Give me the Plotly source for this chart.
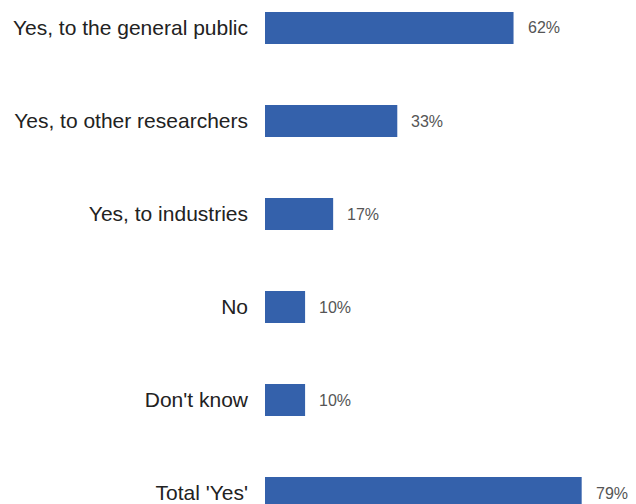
import plotly.graph_objects as go

categories = ["Yes, to the general public", "Yes, to other researchers", "Yes, to industries",
              "No", "Don't know", "Total 'Yes'"]
values = [62, 33, 17, 10, 10, 79]
value_labels = ["62%", "33%", "17%", "10%", "10%", "79%"]

pos = list(range(len(categories)))
font_family = "Liberation Sans, Arial, sans-serif"

fig = go.Figure(go.Bar(
    x=values, y=pos, orientation="h",
    marker=dict(color="#3461ab", line=dict(width=0)),
    width=0.344,
))

for p, v, t in zip(pos, values, value_labels):
    fig.add_annotation(x=v, y=p, text=t, xanchor="left", xshift=12, showarrow=False,
                       font=dict(family=font_family, size=16, color="#555555"))

fig.update_layout(
    width=636, height=504,
    margin=dict(l=265, r=1, t=0, b=0, autoexpand=False),
    paper_bgcolor="white", plot_bgcolor="white",
    showlegend=False,
    xaxis=dict(range=[0, 92.3], visible=False, automargin=False),
    yaxis=dict(range=[5.118, -0.301], tickmode="array", tickvals=pos, ticktext=categories,
               showgrid=False, zeroline=False, showline=False, ticks="",
               automargin=False, ticklabelstandoff=16, ticklabeloverflow="allow",
               tickfont=dict(family=font_family, size=21, color="#222222")),
)

fig.write_html("out.html", config={"displayModeBar": False},
               post_script="document.body.style.margin='0';document.body.style.overflow='hidden';")
